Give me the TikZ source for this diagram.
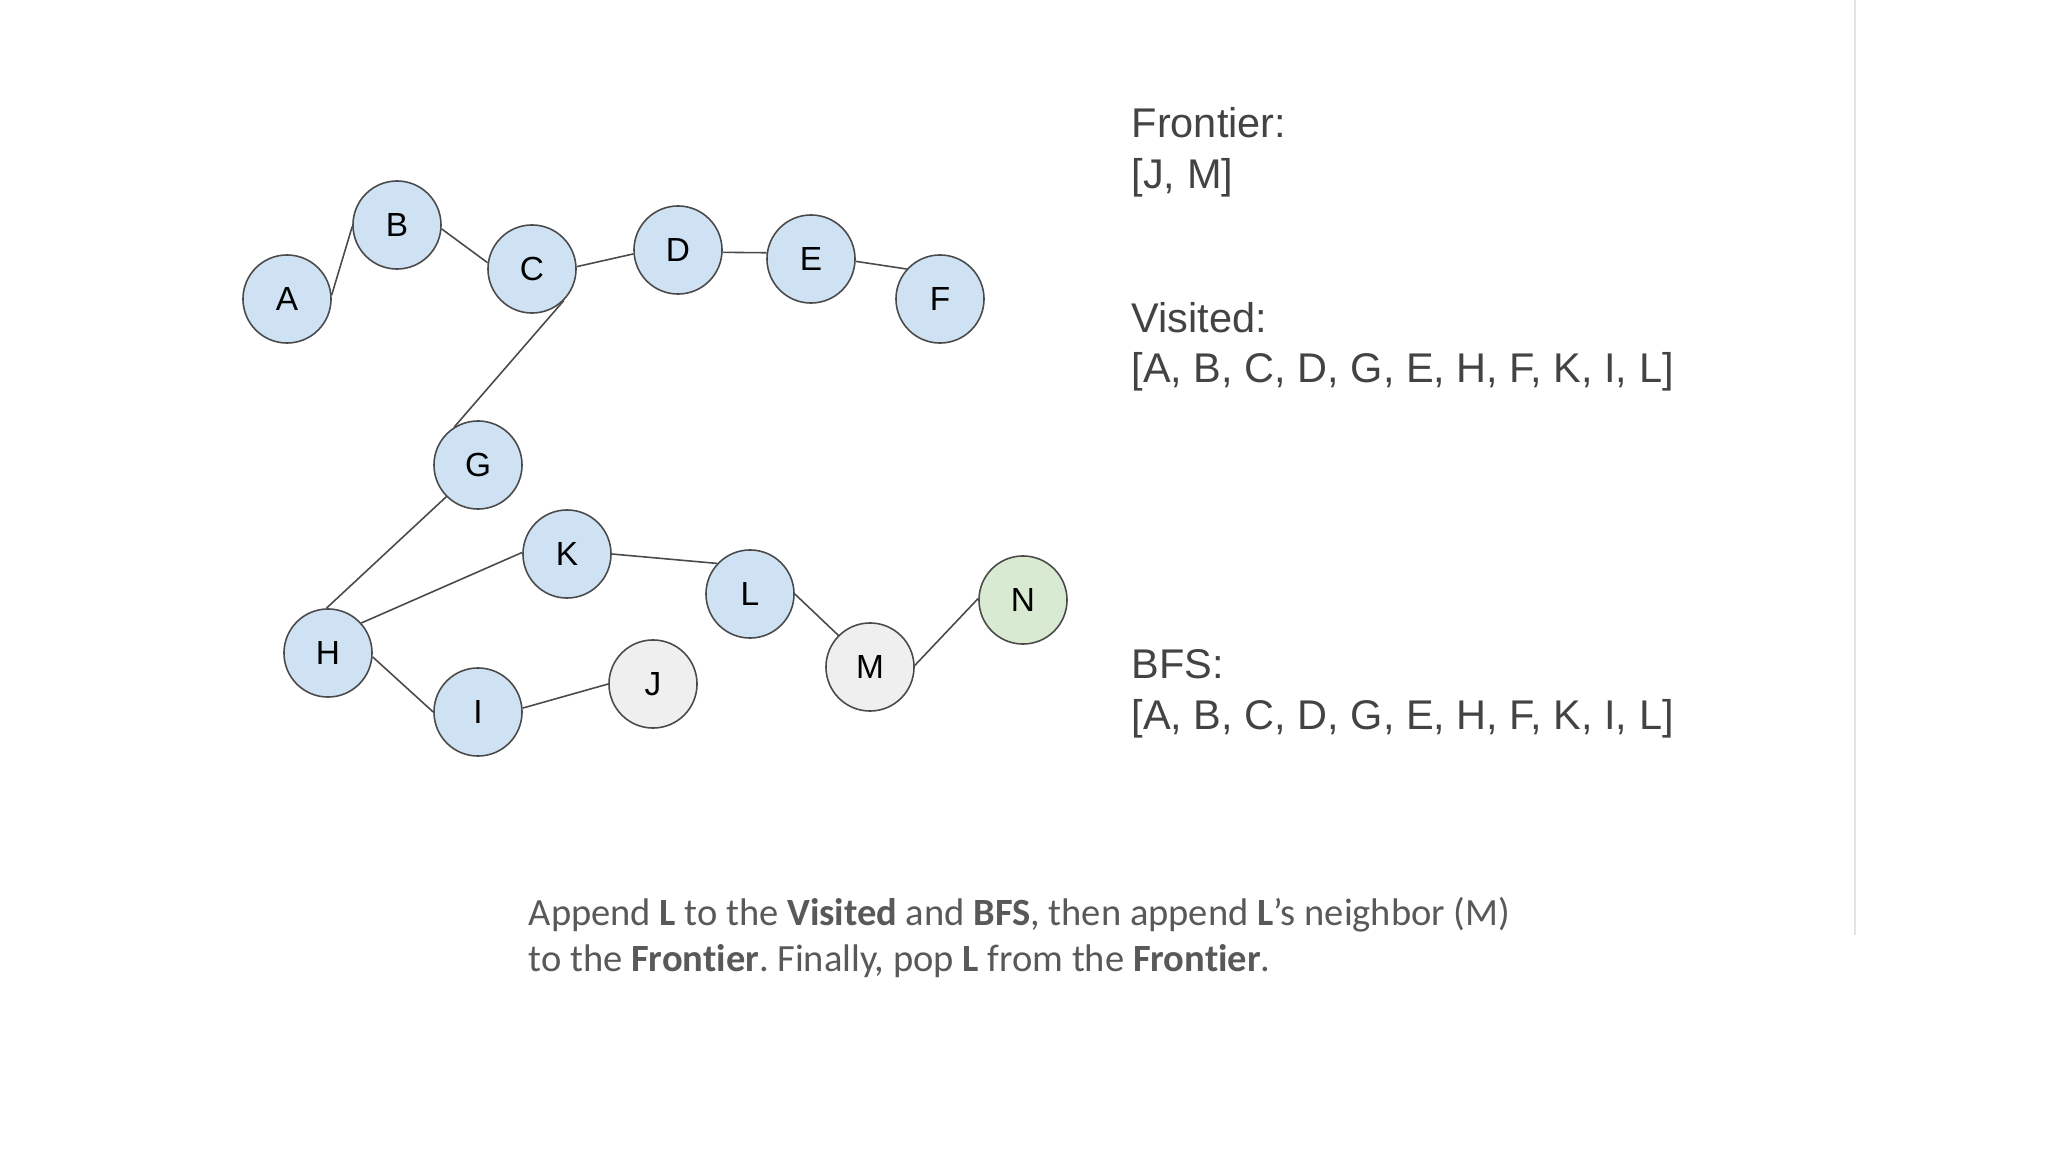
\documentclass[tikz,border=0pt]{standalone}
\usepackage{fontspec}
\setmainfont{Liberation Sans}
\newfontfamily\calib[Ligatures=NoCommon]{Carlito}
\frenchspacing
\definecolor{nodeblue}{HTML}{CFE2F3}
\definecolor{nodegrey}{HTML}{EFEFEF}
\definecolor{nodegreen}{HTML}{D9EAD3}
\definecolor{edgecol}{HTML}{4A4A4A}
\definecolor{txtcol}{HTML}{434343}
\definecolor{captcol}{HTML}{595959}
\definecolor{rulecol}{HTML}{E3E3E3}
\tikzset{
  vtx/.style={circle, draw=edgecol, line width=0.45pt, minimum size=0.88cm, inner sep=0pt,
    font=\fontsize{9.5}{10}\selectfont, text=black},
  bluev/.style={vtx, fill=nodeblue},
  greyv/.style={vtx, fill=nodegrey},
  greenv/.style={vtx, fill=nodegreen},
  edge/.style={draw=edgecol, line width=0.45pt},
  info/.style={anchor=base west, inner sep=0pt, text=txtcol, font=\fontsize{11.8}{14}\selectfont},
  capt/.style={anchor=base west, inner sep=0pt, text=captcol, font=\calib\fontsize{10.95}{13}\selectfont},
}
\begin{document}
\begin{tikzpicture}[x=0.01cm,y=-0.01cm]
\useasboundingbox[fill=white] (0,0) rectangle (2048,1152);
\draw[rulecol, line width=0.6pt] (1855,0) coordinate (r1) -- (1855,935) coordinate (r2);
% nodes
\node[bluev] (A) at (287,299) {A};
\node[bluev] (B) at (397,225) {B};
\node[bluev] (C) at (532,269) {C};
\node[bluev] (D) at (678,250) {D};
\node[bluev] (E) at (811,259) {E};
\node[bluev] (F) at (940,299) {F};
\node[bluev] (G) at (478,465) {G};
\node[bluev] (K) at (567,554) {K};
\node[bluev] (L) at (750,594) {L};
\node[greenv] (N) at (1023,600) {N};
\node[bluev] (H) at (328,653) {H};
\node[greyv] (M) at (870,667) {M};
\node[bluev] (I) at (478,712) {I};
\node[greyv] (J) at (653,684) {J};
% edges
\draw[edge] (A.5) -- (B.182);
\draw[edge] (B.-5) -- (C.172);
\draw[edge] (C.3) -- (D.185);
\draw[edge] (D.-3) -- (E.172);
\draw[edge] (E.-3) -- (F.138);
\draw[edge] (C.-45) -- (G.122);
\draw[edge] (G.-135) -- (H.92);
\draw[edge] (H.42) -- (K.178);
\draw[edge] (K.0) -- (L.137);
\draw[edge] (L.0) -- (M.135);
\draw[edge] (M.2) -- (N.178);
\draw[edge] (H.-5) -- (I.180);
\draw[edge] (I.5) -- (J.180);
% info text
\node[info] (fr1) at (1131,138) {Frontier:};
\node[info] (fr2) at (1131,189) {[J, M]};
\node[info] (vi1) at (1131,333) {Visited:};
\node[info] (vi2) at (1131,383) {[A, B, C, D, G, E, H, F, K, I, L]};
\node[info] (bf1) at (1131,678) {BFS:};
\node[info] (bf2) at (1131,729) {[A, B, C, D, G, E, H, F, K, I, L]};
% caption
\node[capt] (c1) at (528,925) {Append \textbf{L} to the \textbf{Visited} and \textbf{BFS}, then append \textbf{L}’s neighbor (M)};
\node[capt] (c2) at (528,971) {to the \textbf{Frontier}. Finally, pop \textbf{L} from the \textbf{Frontier}.};
\end{tikzpicture}
\end{document}
